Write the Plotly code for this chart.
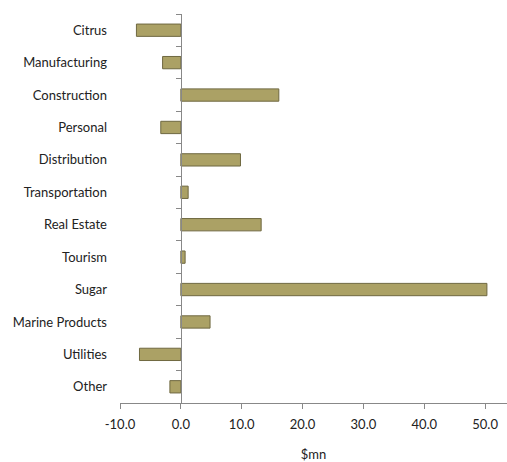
import plotly.graph_objects as go

categories = ["Citrus", "Manufacturing", "Construction", "Personal", "Distribution",
              "Transportation", "Real Estate", "Tourism", "Sugar", "Marine Products",
              "Utilities", "Other"]
values = [-7.3, -3.0, 16.1, -3.3, 9.8, 1.2, 13.2, 0.7, 50.3, 4.8, -6.8, -1.8]
x_ticks = [-10, 0, 10, 20, 30, 40, 50]
x_ticklabels = ["-10.0", "0.0", "10.0", "20.0", "30.0", "40.0", "50.0"]

xmin, xmax = -10, 53.6
font = dict(family="Lato, Open Sans, sans-serif", size=13, color="#222222")

fig = go.Figure()
fig.add_trace(go.Bar(
    x=values, y=categories, orientation="h", width=0.38,
    marker=dict(color="#aba165", line=dict(color="#6f6840", width=1)),
    hoverinfo="skip",
))
# invisible helper trace for the boundary-tick axis at x = 0
fig.add_trace(go.Scatter(
    x=[0] * len(categories), y=list(range(len(categories))), yaxis="y2",
    mode="markers", marker=dict(opacity=0), hoverinfo="skip", showlegend=False,
))

fig.update_layout(
    width=507, height=462,
    margin=dict(l=120, r=0, t=14, b=59),
    paper_bgcolor="white", plot_bgcolor="white",
    showlegend=False, font=font,
    xaxis=dict(
        range=[xmin, xmax], tickvals=x_ticks, ticktext=x_ticklabels,
        showline=True, linecolor="#888888", linewidth=1,
        ticks="outside", ticklen=5, tickcolor="#888888",
        showgrid=False, zeroline=False, ticklabelstandoff=4,
        title=dict(text="$mn", standoff=20, font=font),
        tickfont=font,
    ),
    yaxis=dict(
        type="category", categoryorder="array", categoryarray=categories,
        range=[len(categories) - 0.5, -0.5],
        showline=False, ticks="", showgrid=False, zeroline=False,
        ticklabelstandoff=12, tickfont=font,
    ),
    yaxis2=dict(
        overlaying="y", anchor="free", position=(0 - xmin) / (xmax - xmin),
        range=[len(categories) - 0.5, -0.5],
        tickvals=[i - 0.5 for i in range(len(categories) + 1)],
        showticklabels=False, showline=True, linecolor="#888888", linewidth=1,
        ticks="outside", ticklen=5, tickcolor="#888888",
        showgrid=False, zeroline=False,
    ),
)

fig.write_html("out.html")
